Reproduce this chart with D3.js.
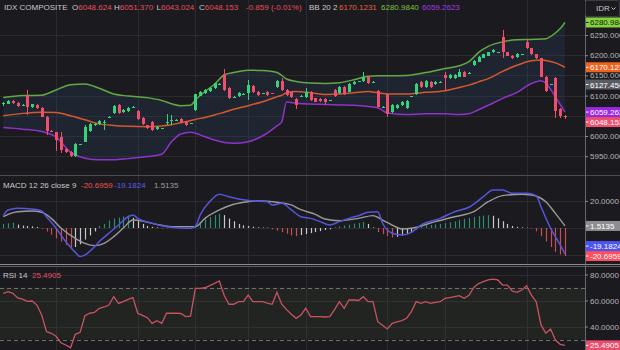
<!DOCTYPE html>
<html>
<head>
<meta charset="utf-8">
<script src="https://cdn.jsdelivr.net/npm/d3@7"></script>
<style>
  html, body { margin: 0; padding: 0; background: #1b1b1f; }
  svg { display: block; font-family: "Liberation Sans", Arial, sans-serif; }
</style>
</head>
<body>
<svg id="chart" width="620" height="350"></svg>
<script>
// ---------- IDX Composite daily candles ----------
const open = [
  6078, 6080, 6086, 6082, 6076, 6100, 6072, 6077, 6070, 6048,
  6012, 6009, 5998, 5968, 5961, 5950, 5979, 5986, 6012, 6026,
  6029, 6033, 6047, 6056, 6077, 6059, 6062, 6072, 6062, 6044,
  6026, 6035, 6017, 6019, 6034, 6036, 6038, 6042, 6034, 6031,
  6064, 6100, 6106, 6112, 6118, 6128, 6153, 6120, 6097, 6099,
  6104, 6106, 6125, 6110, 6105, 6110, 6106, 6122, 6136, 6114,
  6110, 6091, 6100, 6097, 6110, 6093, 6091, 6091, 6089, 6114,
  6106, 6122, 6110, 6128, 6134, 6136, 6146, 6134, 6112, 6073,
  6103, 6059, 6070, 6077, 6070, 6097, 6103, 6134, 6122, 6134,
  6128, 6133, 6151, 6143, 6144, 6147, 6159, 6157, 6176, 6184,
  6194, 6199, 6207, 6207, 6246, 6207, 6199, 6196, 6202, 6232,
  6217, 6202, 6192, 6147, 6128, 6143, 6068, 6048.624
];
const high = [
  6083, 6088, 6089, 6084, 6078, 6114, 6080, 6079, 6072, 6050,
  6014, 6011, 6011, 5970, 5963, 5982, 5981, 6026, 6032, 6031,
  6040, 6040, 6049, 6077, 6079, 6066, 6072, 6074, 6064, 6046,
  6028, 6037, 6024, 6021, 6054, 6052, 6042, 6044, 6036, 6033,
  6105, 6112, 6116, 6122, 6132, 6130, 6166, 6122, 6098, 6108,
  6106, 6139, 6127, 6112, 6107, 6112, 6107, 6138, 6144, 6116,
  6112, 6093, 6101, 6118, 6112, 6095, 6093, 6093, 6090, 6116,
  6124, 6124, 6130, 6136, 6136, 6159, 6148, 6135, 6114, 6074,
  6105, 6079, 6079, 6087, 6089, 6099, 6130, 6136, 6138, 6136,
  6136, 6135, 6159, 6153, 6153, 6166, 6161, 6158, 6188, 6198,
  6204, 6209, 6215, 6208, 6262, 6209, 6201, 6206, 6203, 6238,
  6219, 6204, 6194, 6149, 6129, 6145, 6070, 6051.370
];
const low = [
  6074, 6078, 6080, 6072, 6074, 6052, 6070, 6068, 6046, 6002,
  6010, 5963, 5957, 5958, 5948, 5948, 5978, 5984, 6010, 6024,
  6027, 6015, 6046, 6054, 6054, 6057, 6060, 6071, 6040, 6027,
  6018, 6013, 6015, 6018, 6027, 6027, 6036, 6032, 6024, 6030,
  6062, 6098, 6104, 6110, 6116, 6127, 6112, 6091, 6096, 6097,
  6103, 6089, 6107, 6099, 6104, 6099, 6104, 6120, 6112, 6099,
  6095, 6068, 6099, 6095, 6087, 6083, 6085, 6077, 6088, 6097,
  6104, 6101, 6108, 6126, 6133, 6134, 6128, 6133, 6071, 6072,
  6048, 6057, 6068, 6075, 6068, 6096, 6101, 6120, 6120, 6120,
  6126, 6132, 6114, 6141, 6142, 6145, 6145, 6156, 6174, 6182,
  6192, 6197, 6205, 6206, 6192, 6197, 6190, 6194, 6201, 6215,
  6200, 6190, 6145, 6109, 6127, 6044, 6044, 6043.024
];
const close = [
  6082, 6086, 6081, 6074, 6077, 6073, 6078, 6070, 6048, 6012,
  6011, 5990, 5965, 5960, 5950, 5980, 5980, 6023, 6029, 6029,
  6038, 6034, 6048, 6075, 6056, 6064, 6070, 6073, 6042, 6029,
  6020, 6015, 6022, 6020, 6035, 6040, 6040, 6034, 6026, 6032,
  6103, 6110, 6114, 6120, 6130, 6129, 6114, 6093, 6097, 6106,
  6105, 6126, 6109, 6101, 6106, 6101, 6105, 6136, 6114, 6101,
  6097, 6077, 6100, 6110, 6089, 6085, 6087, 6083, 6089, 6099,
  6122, 6103, 6128, 6134, 6135, 6145, 6130, 6134, 6073, 6073,
  6054, 6077, 6077, 6085, 6087, 6098, 6128, 6122, 6136, 6122,
  6134, 6134, 6144, 6151, 6151, 6159, 6147, 6157, 6186, 6196,
  6202, 6207, 6213, 6207, 6209, 6199, 6192, 6204, 6202, 6217,
  6202, 6192, 6147, 6111, 6128, 6062, 6049.012, 6048.153
];

// ---------- Bollinger Bands (20, 2), sampled at candle indices ----------
const bandIdx = [
  0, 4, 8, 11, 14, 17, 20, 23, 26, 30, 33, 35, 37, 39, 40, 42, 44, 46,
  48, 51, 54, 57, 58, 59, 61, 64, 67, 70, 73, 76, 78, 80, 84, 88, 92,
  95, 97, 99, 101, 104, 107, 110, 112, 113, 115, 116, 117
];
const bbUpper = [
  6095, 6100, 6101, 6114, 6127, 6129, 6118, 6104, 6099, 6095, 6088, 6080,
  6075, 6076, 6089, 6110, 6128, 6151, 6157, 6163, 6162, 6157, 6150, 6141,
  6135, 6131, 6130, 6132, 6139, 6148, 6149, 6149, 6150, 6157, 6167, 6174,
  6184, 6207, 6222, 6233, 6238, 6239, 6240, 6241, 6255, 6266, 6280.9840
];
const bbMiddle = [
  6050, 6056, 6059, 6058, 6050, 6040, 6030, 6026, 6024, 6023, 6025, 6028,
  6033, 6038, 6041, 6046, 6052, 6059, 6066, 6075, 6085, 6097, 6101, 6107,
  6110, 6107, 6103, 6104, 6107, 6110, 6107, 6104, 6104, 6108, 6112, 6120,
  6126, 6134, 6142, 6160, 6175, 6186, 6188, 6187, 6181, 6176, 6170.1231
];
const bbLower = [
  6021, 6017, 6011, 5997, 5960, 5945, 5941, 5941, 5944, 5949, 5955, 5985,
  6005, 6009, 6007, 5998, 5990, 5984, 5982, 5986, 6000, 6025, 6035, 6084,
  6081, 6079, 6078, 6077, 6076, 6073, 6070, 6057, 6053, 6055, 6055, 6053,
  6055, 6065, 6076, 6093, 6108, 6130, 6137, 6131, 6097, 6078, 6059.2623
];
const priceMarker = 6127.4560;

// ---------- MACD (12, 26, 9) ----------
const macdIdx = [
  0, 1, 3, 6, 8, 9, 11, 13, 15, 16, 17, 19, 20, 22, 24, 26, 27, 28, 31, 33,
  35, 39, 40, 41, 43, 45, 47, 49, 52, 55, 56, 58, 60, 62, 64, 66, 68, 70, 72, 74,
  76, 78, 79, 81, 83, 85, 87, 91, 94, 97, 100, 102, 104, 106, 109, 111, 112, 114, 116, 117
];
const macdLine = [
  9, 13.3, 14.5, 14, 12.5, 8.3, -0.2, -10, -18, -21, -20, -13.8, -10, -3.9, 2.2, 8.3, 9.6, 7.1, 3.4, 1.7,
  0.5, -0.2, 1, 9.6, 19.4, 25, 23, 21.4, 20, 19.4, 17, 18.2, 13.3, 8.3, 7.1, 4.7, 2.2, 4.7, 7.1, 9.1,
  11.6, 12, 3.5, -3.9, -5.2, -3.2, 2.2, 7.1, 12, 15.3, 23.1, 28, 28, 25.6, 25.6, 23.9, 15.7, -0.2, -12.5, -19.1824
];
const signalIdx = [
  0, 1, 3, 6, 8, 10, 12, 15, 17, 19, 21, 23, 25, 27, 29, 32, 35, 40, 42, 45, 48,
  51, 53, 57, 60, 62, 65, 67, 70, 74, 77, 79, 81, 83, 85, 90, 94, 98, 101, 104, 108,
  110, 113, 115, 117
];
const signalLine = [
  8.3, 10.1, 12, 12.5, 11.6, 7.1, 0, -7.6, -11.3, -13, -11.3, -6.4, 0, 5.9, 5.2, 2.7, 1, 1, 7.1, 13.3, 17.5,
  19.4, 20, 19, 17, 13.5, 10.1, 6.6, 5.4, 7.1, 9.1, 5.9, 2.2, -0.7, -0.2, 4.7, 8.3, 12, 19.4, 23.9, 24.9,
  24.4, 19.4, 10.8, 1.5135
];
const macdHist = [
  3.0, 3.5, 4.0, 2.5, 1.8, 1.5, 1.2, 0.8, -0.5, -2.6,
  -5.0, -7.6, -10.0, -12.5, -14.5, -14.0, -12.0, -8.5, -5.5, -2.5,
  1.5, 3.0, 5.5, 7.0, 7.7, 8.5, 9.3, 7.5, 5.0, 3.0,
  1.5, 0.8, 0.5, -0.5, 0.6, 0.8, 0.5, -0.6, -0.8, -0.4,
  2.5, 4.5, 6.5, 8.0, 9.5, 10.5, 9.5, 7.0, 5.0, 3.0,
  2.0, 1.5, 1.0, 0.5, 0.4, 0.3, -1.0, -2.0, -3.0, -4.2,
  -5.5, -6.0, -5.2, -4.5, -3.8, -3.0, -2.3, -1.5, -1.0, 0.5,
  1.2, 1.8, 2.5, 3.2, 3.8, 4.5, 3.0, 0.5, -3.0, -4.5,
  -6.0, -7.0, -6.5, -5.5, -4.5, -3.0, -1.0, 1.0, 1.8, 2.2,
  2.6, 3.0, 3.5, 4.2, 5.0, 6.0, 6.8, 7.5, 8.2, 8.8,
  9.2, 9.5, 9.0, 7.2, 5.0, 3.0, 1.5, 0.8, 0.5, 0.3,
  -0.5, -2.5, -6.0, -10.0, -14.0, -17.5, -19.5, -20.6959
];

// ---------- RSI (14) ----------
const rsi = [
  65.5, 66.8, 65.5, 62, 61, 59.3, 59.6, 56.5, 48.8, 36,
  34.8, 32.5, 27.5, 25.8, 23.7, 34, 35.5, 48.3, 50.2, 50.9,
  54, 55, 56.5, 62.9, 57.8, 59.1, 60.9, 62.2, 50.2, 48.5,
  46.8, 42.4, 44.5, 42.4, 50.2, 50.2, 50.2, 50, 47.6, 48,
  69.4, 69.4, 69.8, 71.4, 73.2, 75, 64, 57.1, 57.1, 59.1,
  59.1, 64.2, 59.1, 59.1, 59.1, 58, 57.1, 66.3, 57.1, 53,
  49.5, 46.3, 48.8, 54, 47.6, 47.6, 47.6, 47.3, 47.6, 53,
  59.1, 54, 60.4, 60.4, 60, 62.9, 59.1, 59.1, 43.7, 41,
  38.1, 42.4, 43.5, 44.5, 46.3, 51.4, 59.1, 57.8, 59.1, 57.8,
  58.5, 59.1, 61.7, 62.2, 63, 63.7, 61.7, 64, 70, 73,
  74.5, 75.8, 76.5, 75.8, 71.9, 71.9, 67.3, 66.3, 68.1, 71.4,
  64.2, 59.1, 41.2, 34.8, 38.1, 29.6, 26.3, 25.4905
];

// ---------- tick values ----------
const priceTicks = [5950, 6000, 6050, 6100, 6150, 6200, 6250];
const macdTicks = [-20, 0, 20];
const rsiTicks = [40, 60, 80];
const rsiBounds = [30, 70];
const gridIdx = [11, 28, 40, 51, 63, 80, 92, 109];

// ---------- layout ----------
const W = 620, H = 350, axisX = 585;
const mainPane = { top: 0, bottom: 175 };
const macdPane = { top: 176, bottom: 264 };
const rsiPane  = { top: 267, bottom: 350 };

const colors = {
  bg: "#1b1b1f", grid: "#2a2a2f", axisText: "#b4b4b8",
  up: "#35d47a", down: "#ef4f6a",
  upper: "#62a845", middle: "#d4582e", lower: "#8f32c9",
  macd: "#5455dc", signal: "#9a9a9a",
  histUp: "#2f9a7c", histDown: "#e0545a", histFade: "#dcdcdc",
  rsi: "#c9535f", label: "#c8c8cc"
};

// number formats with a plain hyphen for negatives
const locale = d3.formatLocale({ decimal: ".", thousands: ",", grouping: [3], currency: ["", ""], minus: "-" });
const f2 = locale.format(".2f"), f3 = locale.format(".3f"), f4 = locale.format(".4f");

const n = close.length;
const last = n - 1;
const x = d3.scaleLinear().domain([0, n - 1]).range([3.3, 565]);
const yPrice = d3.scaleLinear().domain([6000, 6250]).range([136, 35]);
const yMacd = d3.scaleLinear().domain([0, 20]).range([228, 200.9]);
const yRsi = d3.scaleLinear().domain([40, 80]).range([326.5, 274.5]);

const svg = d3.select("#chart");
svg.append("rect").attr("width", W).attr("height", H).attr("fill", colors.bg);

const defs = svg.append("defs");
[["clipMain", mainPane], ["clipMacd", macdPane], ["clipRsi", rsiPane]].forEach(([id, p]) => {
  defs.append("clipPath").attr("id", id)
    .append("rect").attr("x", 0).attr("y", p.top).attr("width", axisX).attr("height", p.bottom - p.top);
});

// ---------- grid ----------
const gridG = svg.append("g").attr("shape-rendering", "crispEdges");
[mainPane, macdPane, rsiPane].forEach(p => {
  gridG.selectAll(null).data(gridIdx).enter().append("line")
    .attr("x1", d => Math.round(x(d)) + 0.5).attr("x2", d => Math.round(x(d)) + 0.5)
    .attr("y1", p.top).attr("y2", p.bottom)
    .attr("stroke", colors.grid);
});
function hGrid(ticks, scale) {
  gridG.selectAll(null).data(ticks).enter().append("line")
    .attr("x1", 0).attr("x2", axisX)
    .attr("y1", d => Math.round(scale(d)) + 0.5).attr("y2", d => Math.round(scale(d)) + 0.5)
    .attr("stroke", colors.grid);
}
hGrid(priceTicks, yPrice);
hGrid(macdTicks, yMacd);
hGrid(rsiTicks, yRsi);

// ---------- main pane: Bollinger band + candles ----------
const mainG = svg.append("g").attr("clip-path", "url(#clipMain)");
const band = bandIdx.map((i, k) => ({ i, u: bbUpper[k], m: bbMiddle[k], l: bbLower[k] }));

mainG.append("path").datum(band)
  .attr("d", d3.area().x(d => x(d.i)).y0(d => yPrice(d.l)).y1(d => yPrice(d.u)).curve(d3.curveMonotoneX))
  .attr("fill", "rgba(62,110,165,0.13)");

[["u", colors.upper], ["m", colors.middle], ["l", colors.lower]].forEach(([k, c]) => {
  mainG.append("path").datum(band)
    .attr("d", d3.line().x(d => x(d.i)).y(d => yPrice(d[k])).curve(d3.curveMonotoneX))
    .attr("fill", "none").attr("stroke", c).attr("stroke-width", 1.5);
});

const candles = close.map((c, i) => ({ i, o: open[i], h: high[i], l: low[i], c }));
const candleG = mainG.append("g").attr("shape-rendering", "crispEdges");
candleG.selectAll("line.wick").data(candles).enter().append("line")
  .attr("class", "wick")
  .attr("x1", d => Math.round(x(d.i)) + 0.5).attr("x2", d => Math.round(x(d.i)) + 0.5)
  .attr("y1", d => yPrice(d.h)).attr("y2", d => yPrice(d.l))
  .attr("stroke", d => d.c >= d.o ? colors.up : colors.down);
candleG.selectAll("rect.body").data(candles).enter().append("rect")
  .attr("class", "body")
  .attr("x", d => Math.round(x(d.i)) - 1)
  .attr("width", 3)
  .attr("y", d => yPrice(Math.max(d.o, d.c)))
  .attr("height", d => Math.max(1, Math.abs(yPrice(d.o) - yPrice(d.c))))
  .attr("fill", d => d.c >= d.o ? colors.up : colors.down);

// ---------- MACD pane ----------
const macdG = svg.append("g").attr("clip-path", "url(#clipMacd)");
macdG.selectAll("line.hist").data(macdHist).enter().append("line")
  .attr("class", "hist")
  .attr("x1", (d, i) => Math.round(x(i)) + 0.5).attr("x2", (d, i) => Math.round(x(i)) + 0.5)
  .attr("y1", yMacd(0)).attr("y2", d => yMacd(d))
  .attr("stroke-width", 1.2)
  .attr("stroke", (d, i) => {
    const prev = i > 0 ? macdHist[i - 1] : d;
    if (d >= 0) return d >= prev ? colors.histUp : colors.histFade;
    return d <= prev ? colors.histDown : colors.histFade;
  })
  .attr("opacity", 0.9);

const sigPts = signalIdx.map((i, k) => [x(i), yMacd(signalLine[k])]);
const macdPts = macdIdx.map((i, k) => [x(i), yMacd(macdLine[k])]);
macdG.append("path").attr("d", d3.line().curve(d3.curveMonotoneX)(sigPts))
  .attr("fill", "none").attr("stroke", colors.signal).attr("stroke-width", 1.4);
macdG.append("path").attr("d", d3.line().curve(d3.curveMonotoneX)(macdPts))
  .attr("fill", "none").attr("stroke", colors.macd).attr("stroke-width", 1.5);

// ---------- RSI pane ----------
const rsiG = svg.append("g").attr("clip-path", "url(#clipRsi)");
rsiG.append("rect")
  .attr("x", 0).attr("width", axisX)
  .attr("y", yRsi(rsiBounds[1])).attr("height", yRsi(rsiBounds[0]) - yRsi(rsiBounds[1]))
  .attr("fill", "rgba(120,150,60,0.08)");
rsiG.selectAll("line.bound").data(rsiBounds).enter().append("line")
  .attr("x1", 0).attr("x2", axisX)
  .attr("y1", d => Math.round(yRsi(d)) + 0.5).attr("y2", d => Math.round(yRsi(d)) + 0.5)
  .attr("stroke", "#707074").attr("stroke-dasharray", "4,3");
rsiG.append("path").datum(rsi)
  .attr("d", d3.line().x((d, i) => x(i)).y(d => yRsi(d)))
  .attr("fill", "none").attr("stroke", colors.rsi).attr("stroke-width", 1.3);

// ---------- separators and price axis line ----------
const sepG = svg.append("g").attr("shape-rendering", "crispEdges");
sepG.append("line").attr("x1", 0).attr("x2", W).attr("y1", 175.5).attr("y2", 175.5).attr("stroke", "#4c4c52");
sepG.append("line").attr("x1", 0).attr("x2", W).attr("y1", 264.5).attr("y2", 264.5).attr("stroke", "#8c8c90");
sepG.append("line").attr("x1", 0).attr("x2", W).attr("y1", 266.5).attr("y2", 266.5).attr("stroke", "#5c5c60");
sepG.append("line").attr("x1", axisX + 0.5).attr("x2", axisX + 0.5).attr("y1", 0).attr("y2", H).attr("stroke", "#66666b");

// ---------- value tags (positions resolved first so covered ticks can be dropped) ----------
function layoutTags(list, scale) {
  const h = 10, placed = [];
  return list.map(t => {
    let cy = scale(t.value);
    placed.forEach(p => {
      if (Math.abs(cy - p) < h) cy = cy >= p ? p + h : p - h;
    });
    placed.push(cy);
    return Object.assign({ cy }, t);
  });
}
const priceTags = layoutTags([
  { value: bbUpper[bbUpper.length - 1], bg: "#84d23c", fg: "#16181a" },
  { value: bbMiddle[bbMiddle.length - 1], bg: "#f2621f", fg: "#ffffff" },
  { value: priceMarker, bg: "#5a5c63", fg: "#ffffff" },
  { value: bbLower[bbLower.length - 1], bg: "#9b27e6", fg: "#ffffff" },
  { value: close[last], bg: "#f0506e", fg: "#ffffff" }
], yPrice);
const macdTags = layoutTags([
  { value: signalLine[signalLine.length - 1], bg: "#8e8e92", fg: "#ffffff" },
  { value: macdHist[last], bg: "#ff4f5e", fg: "#ffffff" },
  { value: macdLine[macdLine.length - 1], bg: "#4d52f2", fg: "#ffffff" }
], yMacd);
const rsiTags = layoutTags([{ value: rsi[last], bg: "#ec4c6c", fg: "#ffffff" }], yRsi);

// ---------- right axes ----------
function rightAxis(scale, ticks, tagList) {
  const visible = ticks.filter(v => tagList.every(t => Math.abs(scale(v) - t.cy) >= 7));
  const g = svg.append("g").attr("transform", `translate(${axisX},0)`)
    .call(d3.axisRight(scale).tickValues(visible).tickFormat(f4).tickSize(3).tickPadding(2));
  g.select(".domain").remove();
  g.selectAll(".tick line").attr("stroke", "#8a8a8e");
  g.selectAll(".tick text").attr("fill", colors.axisText).attr("font-size", 8)
    .attr("font-family", '"Liberation Sans", Arial, sans-serif');
}
rightAxis(yPrice, priceTicks, priceTags);
rightAxis(yMacd, macdTicks, macdTags);
rightAxis(yRsi, rsiTicks, rsiTags);

function drawTags(list) {
  const h = 10;
  list.forEach(t => {
    const g = svg.append("g");
    g.append("rect").attr("x", axisX + 1).attr("y", t.cy - h / 2).attr("width", 40).attr("height", h)
      .attr("fill", t.bg);
    g.append("line").attr("x1", axisX + 1).attr("x2", axisX + 3.5)
      .attr("y1", t.cy).attr("y2", t.cy).attr("stroke", t.fg);
    g.append("text").attr("x", axisX + 5).attr("y", t.cy + 3)
      .attr("font-size", 8).attr("fill", t.fg).text(f4(t.value));
  });
}
drawTags(priceTags);
drawTags(macdTags);
drawTags(rsiTags);

// ---------- legends ----------
const change = close[last] - close[last - 1];
const changePct = change / close[last - 1] * 100;
const red = "#e84d5b";

function legend(y, parts) {
  const t = svg.append("text").attr("y", y).attr("font-size", 8);
  parts.forEach(p => t.append("tspan").attr("x", p.x).attr("fill", p.c).text(p.s));
}
function pair(tx, lbl, val, col) {
  const t = svg.append("text").attr("x", tx).attr("y", 9.5).attr("font-size", 8);
  t.append("tspan").attr("fill", colors.label).text(lbl);
  t.append("tspan").attr("fill", col).text(val);
}
legend(9.5, [{ x: 4, c: colors.label, s: "IDX COMPOSITE" }]);
pair(72, "O", f3(open[last]), red);
pair(114, "H", f3(high[last]), red);
pair(156.5, "L", f3(low[last]), red);
pair(199, "C", f3(close[last]), red);
legend(9.5, [
  { x: 246, c: red, s: `${f3(change)} (${f2(changePct)}%)` },
  { x: 309, c: colors.label, s: "BB 20 2" },
  { x: 339, c: "#e8603c", s: f4(bbMiddle[bbMiddle.length - 1]) },
  { x: 381, c: "#7cc043", s: f4(bbUpper[bbUpper.length - 1]) },
  { x: 422, c: "#a338e0", s: f4(bbLower[bbLower.length - 1]) }
]);
legend(188, [
  { x: 3, c: colors.label, s: "MACD 12 26 close 9" },
  { x: 81, c: "#ef5350", s: f4(macdHist[last]) },
  { x: 114, c: "#5b5bf0", s: f4(macdLine[macdLine.length - 1]) },
  { x: 154, c: "#9a9a9e", s: f4(signalLine[signalLine.length - 1]) }
]);
legend(278, [
  { x: 3, c: colors.label, s: "RSI 14" },
  { x: 32, c: "#e0506a", s: f4(rsi[last]) }
]);

// ---------- currency selector ----------
svg.append("rect").attr("x", axisX + 0.5).attr("y", 0.5).attr("width", 34).attr("height", 16)
  .attr("rx", 2).attr("fill", colors.bg).attr("stroke", "#3c3c42");
svg.append("text").attr("x", 596).attr("y", 11).attr("font-size", 8).attr("fill", colors.label).text("IDR");
svg.append("path").attr("d", "M611.5,7.5 L613.5,9.5 L615.5,7.5")
  .attr("fill", "none").attr("stroke", colors.label).attr("stroke-width", 1);
</script>
</body>
</html>
